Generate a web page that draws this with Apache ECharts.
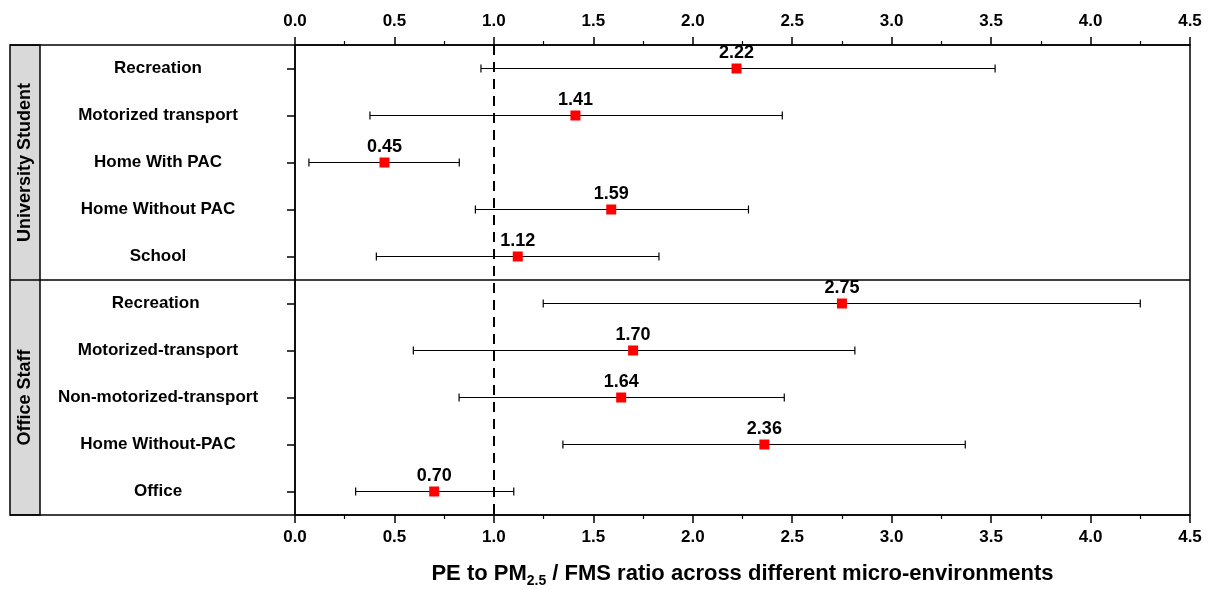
<!DOCTYPE html>
<html><head><meta charset="utf-8">
<script src="https://cdn.jsdelivr.net/npm/echarts@6/dist/echarts.min.js"></script>
<style>html,body{margin:0;padding:0;background:#fff}#c{width:1217px;height:590px}</style>
</head><body><div id="c"></div>
<script>
const categories = ['Recreation','Motorized transport','Home With PAC','Home Without PAC','School',
  'Recreation ','Motorized-transport','Non-motorized-transport','Home Without-PAC','Office'];
const groups = ['University Student','Office Staff'];
const ratio = [2.22,1.41,0.45,1.59,1.12,2.75,1.70,1.64,2.36,0.70];
const lower = [0.935,0.377,0.07,0.907,0.409,1.248,0.595,0.825,1.347,0.305];
const upper = [3.52,2.45,0.826,2.28,1.83,4.25,2.815,2.46,3.37,1.10];
const xTicks = [0,0.5,1,1.5,2,2.5,3,3.5,4,4.5];
const refValue = 1.0;

const FONT = '"Liberation Sans", Arial, sans-serif';
const chart = echarts.init(document.getElementById('c'));
const L=295, R=1190, T=45, B=515;
const xAxisCommon = {
  type:'value', min:0, max:4.5, interval:0.5,
  axisLine:{show:true,lineStyle:{color:'#000',width:1.5}},
  axisTick:{show:true,length:8,lineStyle:{color:'#000',width:1.5}},
  minorTick:{show:true,splitNumber:2,length:4,lineStyle:{color:'#000',width:1.2}},
  splitLine:{show:false},
  axisLabel:{fontFamily:FONT,fontWeight:'bold',fontSize:17,color:'#000',
    formatter:v=>v.toFixed(1)}
};
chart.setOption({
  animation:false,
  grid:{left:L,right:1217-R,top:T,bottom:590-B,containLabel:false,outerBoundsMode:'none',
    show:true,borderColor:'#000',borderWidth:1.5},
  xAxis:[
    Object.assign({},xAxisCommon,{position:'bottom',
      axisLabel:Object.assign({},xAxisCommon.axisLabel,{margin:14}),
      name:'{a|PE to PM}{s|2.5}{a| / FMS ratio across different micro-environments}',
      nameLocation:'middle',nameGap:45,
      nameTextStyle:{rich:{a:{fontFamily:FONT,fontWeight:'bold',fontSize:22,color:'#000'},
        s:{fontFamily:FONT,fontWeight:'bold',fontSize:14,color:'#000',padding:[14,0,0,0]}}}}),
    Object.assign({},xAxisCommon,{position:'top',
      axisLabel:Object.assign({},xAxisCommon.axisLabel,{margin:15})})
  ],
  yAxis:{type:'category',data:categories,inverse:true,
    axisLine:{show:true,lineStyle:{color:'#000',width:1.5}},
    axisTick:{show:true,length:8,alignWithLabel:true,lineStyle:{color:'#000',width:1.5}},
    axisLabel:{fontFamily:FONT,fontWeight:'bold',fontSize:17,color:'#000',align:'center',margin:137}
  },
  graphic:[
    {type:'rect',shape:{x:10,y:T,width:30,height:B-T},style:{fill:'#d9d9d9',stroke:'#000',lineWidth:1.5},z:0},
    {type:'line',shape:{x1:10,y1:T,x2:L,y2:T},style:{stroke:'#000',lineWidth:1.5}},
    {type:'line',shape:{x1:10,y1:B,x2:L,y2:B},style:{stroke:'#000',lineWidth:1.5}},
    {type:'line',shape:{x1:10,y1:(T+B)/2,x2:R,y2:(T+B)/2},style:{stroke:'#000',lineWidth:1.5}},
    {type:'text',x:25,y:T+(B-T)/4,rotation:Math.PI/2,
      style:{text:groups[0],fontFamily:FONT,fontWeight:'bold',fontSize:18,fill:'#000',align:'center',verticalAlign:'middle'}},
    {type:'text',x:25,y:T+3*(B-T)/4,rotation:Math.PI/2,
      style:{text:groups[1],fontFamily:FONT,fontWeight:'bold',fontSize:18,fill:'#000',align:'center',verticalAlign:'middle'}}
  ],
  series:[
    {type:'custom',
      data:categories.map((c,i)=>[i,lower[i],upper[i]]),
      encode:{x:[1,2],y:0},
      renderItem:function(params,api){
        const i=api.value(0);
        const p1=api.coord([api.value(1),i]);
        const p2=api.coord([api.value(2),i]);
        const h=4;
        const st={stroke:'#000',lineWidth:1.2};
        return {type:'group',children:[
          {type:'line',shape:{x1:p1[0],y1:p1[1],x2:p2[0],y2:p2[1]},style:st},
          {type:'line',shape:{x1:p1[0],y1:p1[1]-h,x2:p1[0],y2:p1[1]+h},style:st},
          {type:'line',shape:{x1:p2[0],y1:p2[1]-h,x2:p2[0],y2:p2[1]+h},style:st}
        ]};
      },z:2},
    {type:'scatter',
      data:categories.map((c,i)=>[ratio[i],i]),
      symbol:'rect',symbolSize:10,itemStyle:{color:'#ff0000',opacity:1},
      label:{show:true,position:'top',distance:1,formatter:p=>p.value[0].toFixed(2),
        fontFamily:FONT,fontWeight:'bold',fontSize:18,color:'#000'},
      z:3,
      markLine:{silent:true,symbol:'none',label:{show:false},
        lineStyle:{color:'#000',type:[10,7],width:2},
        data:[{xAxis:refValue}]}}
  ]
});
</script></body></html>
